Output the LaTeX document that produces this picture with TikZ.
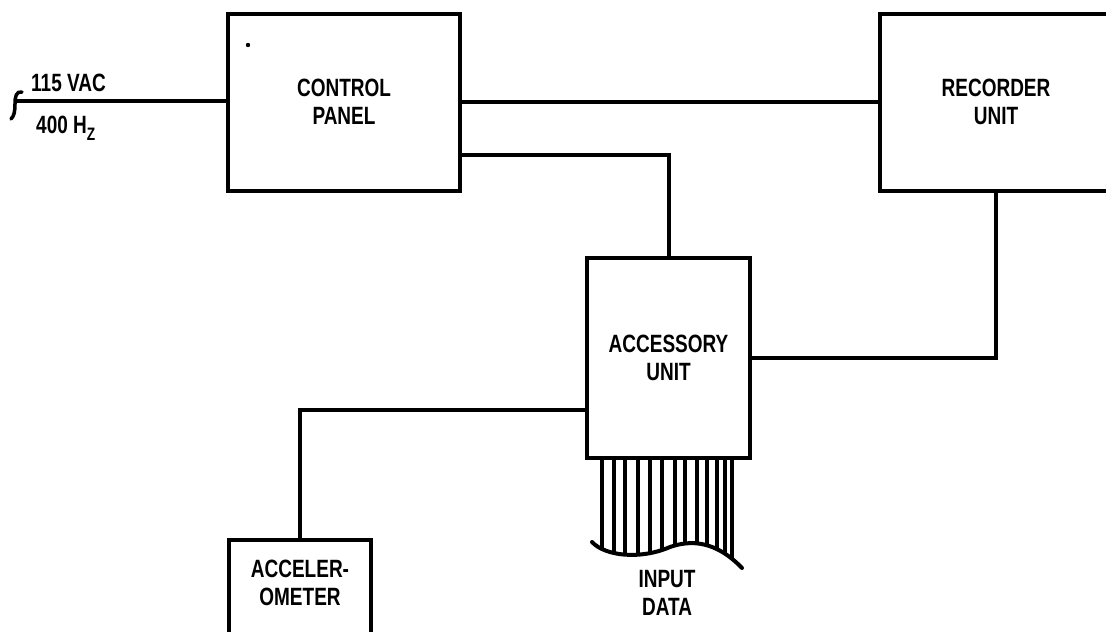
\documentclass[tikz,border=0pt]{standalone}
\usepackage{fontspec}
\setmainfont{Liberation Sans}[FakeStretch=0.76,UprightFont=* Bold]
\begin{document}
\begin{tikzpicture}[x=1pt,y=-1pt,
  wire/.style={line width=4pt},
  blk/.style={draw,line width=4pt,inner sep=0pt,align=center,font=\fontsize{25}{28}\selectfont},
  lbl/.style={inner sep=0pt,align=center,font=\fontsize{25}{28}\selectfont},
  datawire/.style={line width=4pt}]
\clip (0,0) rectangle (1106,632);
\fill[white] (0,0) rectangle (1106,632);
% blocks
\node[blk,minimum width=232pt,minimum height=177pt] (cp) at (344,102) {CONTROL\\PANEL};
\node[blk,minimum width=232pt,minimum height=177pt] (ru) at (996,102) {RECORDER\\UNIT};
\node[blk,minimum width=163pt,minimum height=200pt] (au) at (668.5,358) {ACCESSORY\\UNIT};
\node[blk,minimum width=142pt,minimum height=96pt] (acc) at (300,588) {};
\node[lbl] (acclbl) at (300,583) {ACCELER-\\OMETER};
\fill (248,45) circle (2.2pt);
% power input
\coordinate (pin) at (15,101);
\draw[wire] (pin) -- (cp.west |- pin);
\draw[line width=3.5pt,line cap=round] (22,92) .. controls (16,91) and (15,97) .. (15,104) .. controls (15,112) and (14,116) .. (11,119);
\node[lbl,anchor=west] (vac) at (31,83) {115 VAC};
\node[lbl,anchor=west] (hz) at (36,128) {400 H\raisebox{-7pt}{\fontsize{18}{18}\selectfont Z}};
% connections
\draw[wire] (cp.east) -- (ru.west);
\coordinate (c1) at (461,155);
\draw[wire] (cp.east |- c1) -| (au.north);
\draw[wire] (ru.south) |- (au.east);
\coordinate (c2) at (587,410);
\draw[wire] (au.west |- c2) -| (acc.north);
% input data bundle
\begin{scope}
\clip (585,450) -- (592,542) .. controls (605,556) and (640,560) .. (670,547) .. controls (690,540) and (715,540) .. (742,568) -- (750,450) -- cycle;
\foreach \x in {602,613.5,625,638,650,662,675,685,696.5,706.5,716.5,725,732}
  \draw[datawire] (\x,456) -- (\x,580);
\end{scope}
\draw[line width=4pt,line cap=round] (592,542) .. controls (605,556) and (640,560) .. (670,547) .. controls (690,540) and (715,540) .. (742,568);
\node[lbl] (indata) at (667,593) {INPUT\\DATA};
\end{tikzpicture}
\end{document}
